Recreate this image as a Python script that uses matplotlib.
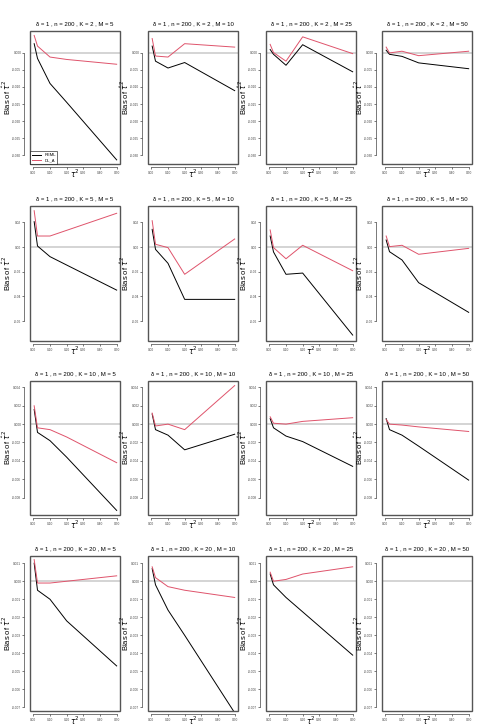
import numpy as np
import matplotlib
matplotlib.use('Agg')
import matplotlib.pyplot as plt
from matplotlib.patches import Rectangle

plt.rcParams['font.family'] = ['Liberation Sans', 'DejaVu Sans']
plt.rcParams['mathtext.fontset'] = 'dejavusans'

# values of tau^2 used in the simulation
tau2 = [0.005, 0.025, 0.1, 0.2, 0.5]
K_values = [2, 5, 10, 20]
M_values = [5, 10, 25, 50]

# bias of tau^2 estimate, one list per M (5, 10, 25, 50)
reml_K2 = [[0.0026, -0.0017, -0.0090, -0.0145, -0.0313],
           [0.0019, -0.0025, -0.0045, -0.0029, -0.0111],
           [0.0009, -0.0005, -0.0037, 0.0023, -0.0056],
           [0.0007, -0.0005, -0.0011, -0.0030, -0.0047]]
dl_K2 = [[0.0050, 0.0019, -0.0013, -0.0020, -0.0034],
         [0.0041, -0.0010, -0.0013, 0.0026, 0.0016],
         [0.0024, 0.0000, -0.0025, 0.0046, -0.0003],
         [0.0016, -0.0001, 0.0004, -0.0009, 0.0004]]

reml_K5 = [[0.0205, 0.0008, -0.0078, -0.0146, -0.0349],
           [0.0143, -0.0019, -0.0132, -0.0424, -0.0424],
           [0.0089, -0.0040, -0.0221, -0.0211, -0.0713],
           [0.0057, -0.0038, -0.0105, -0.0289, -0.0529]]
dl_K5 = [[0.0294, 0.0089, 0.0089, 0.0135, 0.0273],
         [0.0213, 0.0022, -0.0005, -0.0221, 0.0065],
         [0.0138, -0.0005, -0.0095, 0.0014, -0.0192],
         [0.0089, 0.0003, 0.0014, -0.0059, -0.0011]]

reml_K10 = [[0.0016, -0.0009, -0.0018, -0.0036, -0.0094],
            [0.0011, -0.0006, -0.0012, -0.0028, -0.0011],
            [0.0006, -0.0004, -0.0013, -0.0019, -0.0046],
            [0.0006, -0.0006, -0.0012, -0.0024, -0.0061]]
dl_K10 = [[0.0020, -0.0004, -0.0006, -0.0014, -0.0042],
          [0.0012, -0.0002, 0.0000, -0.0006, 0.0042],
          [0.0008, 0.0001, 0.0000, 0.0003, 0.0007],
          [0.0005, 0.0000, -0.0001, -0.0003, -0.0008]]

reml_K20 = [[0.0010, -0.0005, -0.0010, -0.0022, -0.0047],
            [0.0007, -0.0002, -0.0016, -0.0030, -0.0073],
            [0.0004, -0.0002, -0.0009, -0.0017, -0.0041],
            None]
dl_K20 = [[0.0012, -0.0001, -0.0001, 0.0000, 0.0003],
          [0.0008, 0.0002, -0.0003, -0.0005, -0.0009],
          [0.0005, 0.0000, 0.0001, 0.0004, 0.0008],
          None]

reml_rows = [reml_K2, reml_K5, reml_K10, reml_K20]
dl_rows = [dl_K2, dl_K5, dl_K10, dl_K20]

# y axis per row
row_ylim = [(-0.0325, 0.0063), (-0.0761, 0.0332), (-0.0099, 0.0047), (-0.0072, 0.0014)]
row_yticks = [[0.0, -0.005, -0.010, -0.015, -0.020, -0.025, -0.030],
              [0.02, 0.0, -0.02, -0.04, -0.06],
              [0.004, 0.002, 0.0, -0.002, -0.004, -0.006, -0.008],
              [0.001, 0.0, -0.001, -0.002, -0.003, -0.004, -0.005, -0.006, -0.007]]
row_fmt = ['{:.3f}', '{:.2f}', '{:.3f}', '{:.3f}']

W, H = 495, 726
fig = plt.figure(figsize=(W / 100, H / 100), dpi=100)

col_left = [30, 148, 266, 382]
row_top = [31, 206, 381, 556]
row_h = [133, 135, 134, 155]
pw = 90

red = '#DF536B'

for r in range(4):
    for c in range(4):
        l, t, h = col_left[c], row_top[r], row_h[r]
        ax = fig.add_axes([l / W, 1 - (t + h) / H, pw / W, h / H])
        ax.axhline(0, color='#d4d4d4', lw=1.4, zorder=0)
        if reml_rows[r][c] is not None:
            ax.plot(tau2, reml_rows[r][c], color='black', lw=0.7, label='REML')
            ax.plot(tau2, dl_rows[r][c], color=red, lw=0.7, label='DL_A')
        ax.set_xlim(-0.02, 0.52)
        ax.set_ylim(*row_ylim[r])

        xt = [0.0, 0.1, 0.2, 0.3, 0.4, 0.5]
        ax.set_xticks(xt)
        ax.set_xticklabels(['{:.2f}'.format(v) for v in xt])
        yt = row_yticks[r]
        ax.set_yticks(yt)
        ax.set_yticklabels([row_fmt[r].format(v).replace('-0.000', '0.000') for v in yt],
                           rotation=90, va='center')

        for s in ['top', 'right']:
            ax.spines[s].set_visible(False)
        ax.spines['left'].set_position(('outward', 4))
        ax.spines['bottom'].set_position(('outward', 2.5))
        ax.spines['left'].set_bounds(min(yt), max(yt))
        ax.spines['bottom'].set_bounds(0.0, 0.5)
        for s in ['left', 'bottom']:
            ax.spines[s].set_linewidth(0.5)
            ax.spines[s].set_color('#444444')
        ax.add_patch(Rectangle((0, 0), 1, 1, transform=ax.transAxes, fill=False,
                               edgecolor='#555555', lw=1.0, clip_on=False, zorder=5))
        ax.tick_params(length=1.5, width=0.5, labelsize=2.3, pad=0.8, colors='#444444')

        ax.set_title('δ = 1 , n = 200 , K = {} , M = {}'.format(K_values[r], M_values[c]),
                     fontsize=4.3, pad=4)
        ax.set_ylabel(r'Bias of $\hat{\tau}^2$', fontsize=5.5)
        ax.yaxis.set_label_coords(-0.19, 0.5)
        ax.set_xlabel(r'$\tau^2$', fontsize=5.5, va='center')
        ax.xaxis.set_label_coords(0.5, -9.5 / h)

        if r == 0 and c == 0:
            ax.legend(loc='lower left', fontsize=3, frameon=True, fancybox=False,
                      edgecolor='black', borderpad=0.4, handlelength=2.2,
                      borderaxespad=0, labelspacing=0.3).get_frame().set_linewidth(0.5)

fig.savefig('out.png', dpi=100)
